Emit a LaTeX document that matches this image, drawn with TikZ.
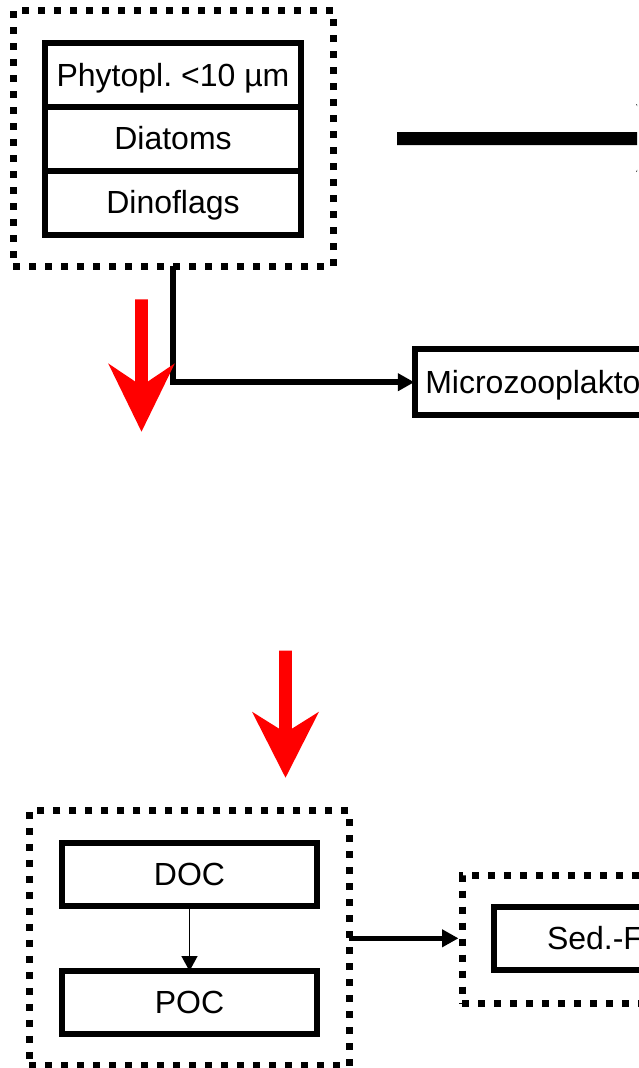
\documentclass[tikz,border=0pt]{standalone}
\usepackage{fontspec}
\setmainfont{Liberation Sans}
\usetikzlibrary{arrows.meta}
% red sinking arrow: #1 = x of axis, #2 = top, #3 = wing depth, #4 = notch depth, #5 = tip depth, #6 = half span
\newcommand\sinkarrow[6]{%
  \fill[red] (#1-6.4,#2) -- (#1+6.4,#2)
    -- (#1+6.4,{#2+#3+(#4-#3)*(1-6.4/#6)}) -- (#1+#6,#2+#3) -- (#1,#2+#5)
    -- (#1-#6,#2+#3) -- (#1-6.4,{#2+#3+(#4-#3)*(1-6.4/#6)}) -- cycle;}
\begin{document}
\frenchspacing
\begin{tikzpicture}[x=1pt,y=-1pt,
  lbl/.style={font=\fontsize{32}{38}\selectfont, text height=22.9pt, text depth=0pt},
  solidbox/.style={draw, line width=6pt, outer sep=0pt, inner sep=0pt, lbl},
  dotbox/.style={draw, line width=7pt, dash pattern=on 7pt off 9pt, outer sep=0pt},
  conn/.style={line width=5.5pt, -{Triangle[length=16.5pt,width=17pt]}},
  thinconn/.style={line width=1.5pt, -{Triangle[length=15pt,width=16pt]}},
]
\useasboundingbox (0,0) rectangle (639,1068);
\clip (0,0) rectangle (639,1068);

% phytoplankton group
\node[dotbox, minimum width=320pt, minimum height=255.5pt] (grp1) at (173,138.25) {};
\node[solidbox, minimum width=256pt, minimum height=63.5pt] (phyto) at (173,74.75) {Phytopl. <10 µm};
\node[solidbox, minimum width=256pt, minimum height=64pt] (diat) at (173,138.5) {Diatoms};
\node[solidbox, minimum width=256pt, minimum height=64pt] (dino) at (173,202.5) {Dinoflags};

% broad export arrow
\begin{scope}
  \clip (0,0) rectangle (637,300);
  \fill (397,132) -- (650,132) -- (636,104) -- (690,138.5) -- (636,172)
    -- (650,145) -- (397,145) -- cycle;
\end{scope}

% microzooplankton
\node[solidbox, anchor=west, minimum height=65.7pt, text width=320pt,
  inner xsep=10pt, align=left] (micro) at (415.3,382.2) {Microzooplakto};
\draw[conn, shorten >=1pt] (grp1.south) |- (micro.west);

% sinking arrows
\sinkarrow{141.5}{299.4}{64}{86.4}{132.3}{33.3}
\sinkarrow{285.5}{650.7}{61}{82}{127}{33.5}

% carbon pools
\node[dotbox, minimum width=320pt, minimum height=255pt] (grp2) at (189.4,938.3) {};
\node[solidbox, minimum width=255pt, minimum height=63pt] (doc) at (189.5,874.5) {DOC};
\node[solidbox, minimum width=255pt, minimum height=63pt] (poc) at (189.5,1002.5) {POC};
\draw[thinconn] (doc.south) -- (poc.north);

% sediment
\node[dotbox, anchor=west, minimum width=320pt, minimum height=128.5pt] (sedgrp) at (462,939.25) {};
\node[solidbox, anchor=west, minimum height=63.5pt, text width=200pt,
  inner xsep=53pt, align=left] (sed) at (494,938.25) {Sed.-F};
\draw[conn, shorten >=3.5pt] (grp2.east) -- (grp2.east -| sedgrp.west);
\end{tikzpicture}
\end{document}
